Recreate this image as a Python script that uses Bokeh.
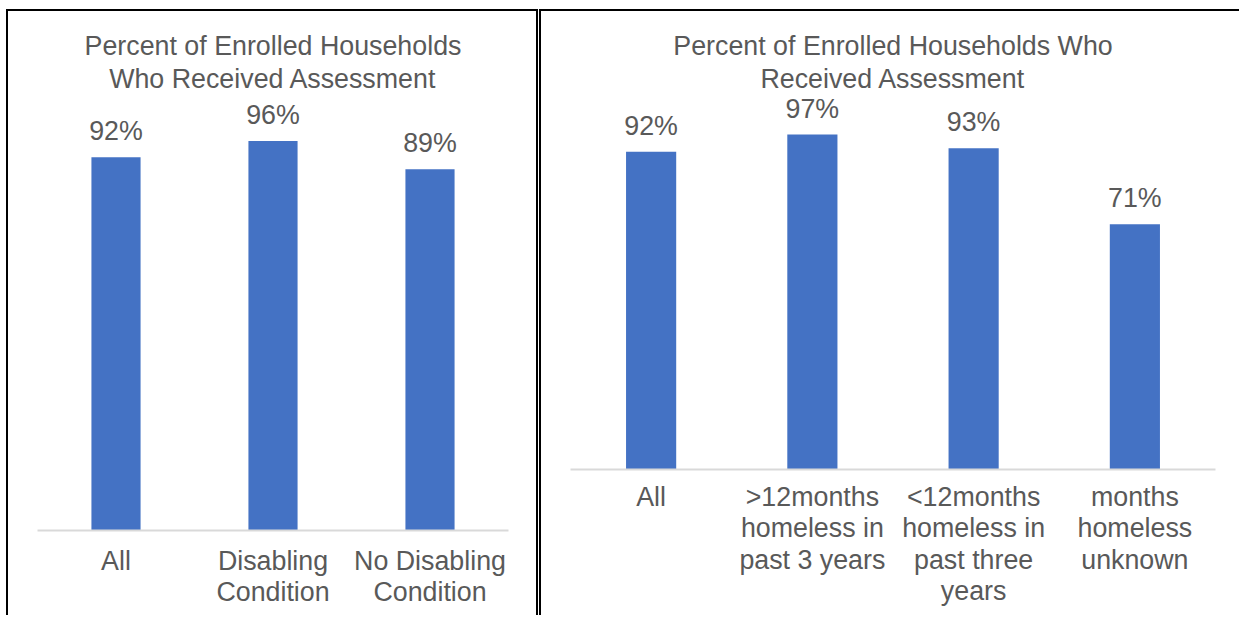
from bokeh.plotting import figure
from bokeh.models import ColumnDataSource, FactorRange, Range1d, LabelSet, Title
from bokeh.layouts import row, column
from bokeh.core.properties import value
from bokeh.embed import file_html
from bokeh.resources import INLINE

# ---- data ----
left_title = ["Percent of Enrolled Households", "Who Received Assessment"]
left_categories = ["All", "Disabling\nCondition", "No Disabling\nCondition"]
left_values = [92, 96, 89]

right_title = ["Percent of Enrolled Households Who", "Received Assessment"]
right_categories = ["All", ">12months\nhomeless in\npast 3 years",
                    "<12months\nhomeless in\npast three\nyears",
                    "months\nhomeless\nunknown"]
right_values = [92, 97, 93, 71]

BAR = "#4472C4"
TXT = "#595959"
FONT = "Liberation Sans"
FS = "26.8px"


def style_title(t, standoff):
    t.align = "center"
    t.text_font = FONT
    t.text_font_size = FS
    t.text_font_style = "normal"
    t.text_color = TXT
    t.standoff = standoff
    t.offset = 0


def make_panel(title, cats, vals, width, height, y_end, bar_w,
               b_left, b_right, b_top, b_bottom, standoff, styles, margin):
    src = ColumnDataSource(dict(cat=cats, val=vals,
                                lab=[f"{v}%" for v in vals]))
    p = figure(x_range=FactorRange(*cats), y_range=Range1d(0, y_end),
               width=width, height=height, output_backend="svg",
               toolbar_location=None, min_border_left=b_left,
               min_border_right=b_right, min_border_top=b_top,
               min_border_bottom=b_bottom)
    p.vbar(x="cat", top="val", width=bar_w, source=src,
           fill_color=BAR, line_color=None)
    labels = LabelSet(x="cat", y="val", text="lab", source=src,
                      text_align="center", text_baseline="alphabetic",
                      y_offset=17, text_font=value(FONT),
                      text_font_size=value(FS), text_color=value(TXT))
    p.add_layout(labels)
    # figure's own title sits farthest out; added title sits nearest plot
    p.title.text = title[0]
    style_title(p.title, 0)
    t2 = Title(text=title[1])
    style_title(t2, 3)
    p.add_layout(t2, "above")
    p.yaxis.visible = False
    p.xgrid.visible = False
    p.ygrid.visible = False
    p.outline_line_color = None
    ax = p.xaxis[0]
    ax.axis_line_color = "#D9D9D9"
    ax.axis_line_width = 2
    ax.major_tick_line_color = None
    ax.major_tick_in = 0
    ax.major_tick_out = 0
    ax.minor_tick_line_color = None
    ax.major_label_standoff = standoff
    ax.major_label_text_font = FONT
    ax.major_label_text_font_size = FS
    ax.major_label_text_line_height = 1.05
    ax.major_label_text_color = TXT
    ax.major_label_orientation = "horizontal"
    p.styles = styles
    p.margin = margin
    return p


left = make_panel(left_title, left_categories, left_values,
                  width=528, height=604, y_end=107.2, bar_w=0.313,
                  b_left=29, b_right=32, b_top=84, b_bottom=87, standoff=15,
                  styles={"box-sizing": "content-box",
                          "border-top": "2px solid black",
                          "border-left": "2px solid black",
                          "border-right": "2px solid black"},
                  margin=(9, 0, 0, 6))

right = make_panel(right_title, right_categories, right_values,
                   width=698, height=604, y_end=108.3, bar_w=0.311,
                   b_left=29, b_right=26, b_top=84, b_bottom=148, standoff=12,
                   styles={"box-sizing": "content-box",
                           "border-top": "2px solid black",
                           "border-left": "2px solid black"},
                   margin=(9, 0, 0, 1))

layout = row(column(left), column(right))
open("out.html", "w").write(file_html(layout, INLINE))
